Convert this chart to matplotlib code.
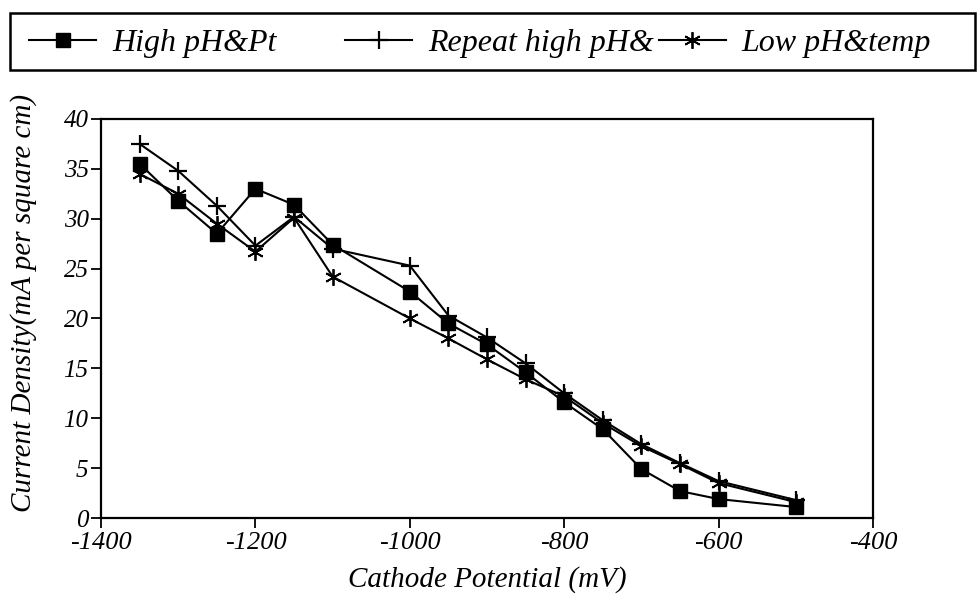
import numpy as np
import matplotlib.pyplot as plt
from matplotlib.lines import Line2D
from matplotlib.patches import Rectangle

# cathode potential (mV)
potential = [-1350, -1300, -1250, -1200, -1150, -1100, -1000, -950,
             -900, -850, -800, -750, -700, -650, -600, -500]

# current density (mA per square cm)
high_ph_pt = [35.5, 31.8, 28.5, 33.0, 31.4, 27.4, 22.7, 19.5,
              17.4, 14.6, 11.6, 8.9, 4.9, 2.7, 1.9, 1.1]
repeat_high_ph = [37.5, 34.8, 31.3, 27.3, 30.2, 27.0, 25.3, 20.3,
                  18.1, 15.5, 12.5, 9.8, 7.4, 5.5, 3.7, 1.8]
low_ph_temp = [34.5, 32.5, 29.5, 26.7, 30.1, 24.2, 20.0, 18.0,
               15.9, 13.9, 12.2, 9.5, 7.2, 5.4, 3.5, 1.6]

labels = ['High pH&Pt', 'Repeat high pH&', 'Low pH&temp']
xticks = [-1400, -1200, -1000, -800, -600, -400]
yticks = [0, 5, 10, 15, 20, 25, 30, 35, 40]

plt.rcParams['font.family'] = ['Liberation Serif', 'DejaVu Serif']
plt.rcParams['font.style'] = 'italic'
plt.rcParams['axes.unicode_minus'] = False

styles = [dict(marker='s', ms=10),
          dict(marker='+', ms=13, mew=1.6),
          dict(marker=(6, 2, 0), ms=12, mew=1.3)]

fig = plt.figure(figsize=(9.8, 6.07), dpi=100)
ax = fig.add_axes([0.1031, 0.1466, 0.7877, 0.6574])

for ys, lab, st in zip([high_ph_pt, repeat_high_ph, low_ph_temp], labels, styles):
    ax.plot(potential, ys, color='black', lw=1.5, label=lab, **st)

ax.set_xlim(-1400, -400)
ax.set_ylim(0, 40)
ax.set_xticks(xticks)
ax.set_yticks(yticks)
ax.tick_params(direction='out', length=7, width=1.3, colors='black')
ax.tick_params(axis='x', labelsize=19, pad=3)
ax.tick_params(axis='y', labelsize=18, pad=2)
for s in ax.spines.values():
    s.set_linewidth(1.6)

ax.set_xlabel('Cathode Potential (mV)', fontsize=21, labelpad=9)
ax.set_ylabel('Current Density(mA per square cm)', fontsize=21)
ax.yaxis.set_label_coords(-0.083, 0.54)

# legend: one box across the top, three entries inside it
fig.add_artist(Rectangle((0.0102, 0.8847), 0.9848, 0.0939,
                         transform=fig.transFigure, fill=False,
                         edgecolor='black', lw=1.8))
starts = [0.030, 0.352, 0.672]
for x0, lab, st in zip(starts, labels, styles):
    h = Line2D([], [], color='black', lw=1.5, **st)
    fig.legend([h], [lab], loc='center left', bbox_to_anchor=(x0, 0.929),
               frameon=False, fontsize=23, handlelength=2.1,
               handletextpad=0.5, borderpad=0, borderaxespad=0)

fig.savefig('out.png', dpi=100)
